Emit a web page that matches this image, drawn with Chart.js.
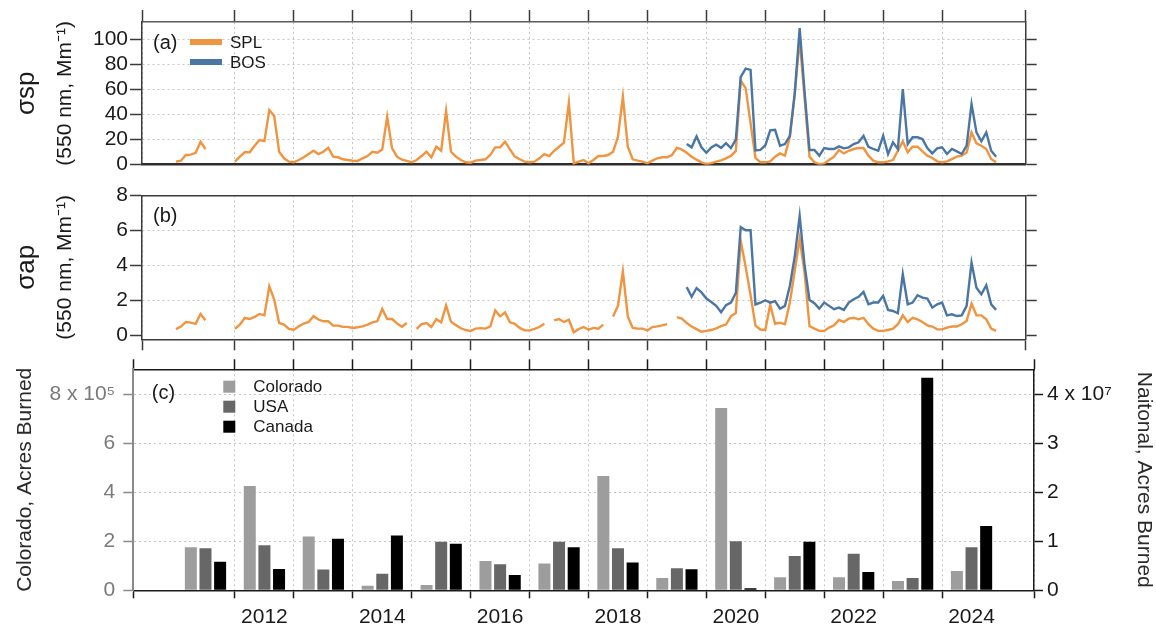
<!DOCTYPE html>
<html>
<head>
<meta charset="utf-8">
<script src="https://cdn.jsdelivr.net/npm/chart.js@4.4.0/dist/chart.umd.min.js"></script>
<style>
  html, body { margin: 0; padding: 0; background: #ffffff; }
  #wrap { position: relative; width: 1156px; height: 626px; overflow: hidden; background: #ffffff; }
  canvas { position: absolute; left: 0; top: 0; }
</style>
</head>
<body>
<div id="wrap">
  <canvas id="cA" width="1156" height="626"></canvas>
  <canvas id="cB" width="1156" height="626"></canvas>
  <canvas id="cC" width="1156" height="626"></canvas>
</div>
<script>
// ---------------- DATA ----------------
// Monthly series, SPL starts Jan 2011, BOS starts Sep 2019 (null = no data)
const splStart = 2011;
const bosStart = 2019 + 8 / 12;

// (a) scattering, SPL
const splScat = [
  2.4, 3.2, 7.7, 8, 9.5, 18.3, 12.5, null, null, null, null, null,
  2.4, 6.4, 9.9, 9.9, 15.1, 19.6, 18.8, 43.5, 38.7, 10.3, 5.1, 2.4,
  1.9, 3.7, 5.9, 8.5, 11.1, 8.5, 10.3, 13.5, 6.4, 5.9, 4.3, 3.7,
  3.2, 3.0, 5.1, 6.9, 10.3, 9.5, 12, 38.2, 13, 6.4, 4, 3,
  1.9, 3.7, 6.9, 10.3, 5.9, 14.3, 11.1, 42.7, 10.3, 6.4, 3.7, 1.9,
  1.6, 3.2, 3.7, 4.3, 7.7, 13.8, 13.8, 18.3, 12.2, 6.4, 4.3, 2.4,
  1.9, 2.4, 5.1, 8.5, 6.9, 11.1, 14.3, 17.5, 49.3, 1.1, 2.4, 3.7,
  1.1, 3.7, 6.9, 6.9, 7.7, 10.3, 22.3, 54.1, 14.3, 4.3, 3.2, 2.4,
  1.1, 3.2, 5.1, 5.9, 5.9, 7.7, 13.5, 12, 9.5, 6.4, 4, 1.9,
  0.5, 1.2, 2.5, 3.5, 5, 7, 11, 67, 61, 33, 5.5, 2,
  1.9, 2.7, 6.4, 9, 7.2, 22, 56, 100, 53, 6.4, 1.9, 0.5,
  1, 3.7, 6.4, 11.7, 9, 11.1, 12.5, 13.3, 13.3, 7.2, 3.2, 1.9,
  1.9, 2.7, 3.7, 11.1, 18.6, 9.8, 14.3, 14.3, 10.6, 7.2, 5.3, 2.7,
  1.9, 2.7, 4.5, 6.4, 7.2, 9.8, 25.7, 17, 15.1, 12.5, 4.5, 1.9
];
// (a) scattering, BOS (from Sep 2019)
const bosScat = [
  16.4, 13.8, 22.5, 13.8,
  9.5, 13.8, 16, 13.4, 17.2, 13.2, 20, 70, 76.5, 75.5, 11.4, 11.8,
  15.3, 27.3, 27.8, 15.1, 16.4, 23, 57, 108.8, 58, 11.7, 11.7, 7.2,
  13.3, 12.5, 12.5, 14.6, 13, 13.8, 16.4, 17.8, 23, 14.3, 12.5, 11.1,
  23, 8.5, 17.8, 12.5, 60.2, 16.4, 21.8, 21.8, 20.4, 13.3, 9, 13,
  13.8, 8.5, 12.5, 10.6, 8.5, 15.1, 48.3, 25.7, 18.6, 25.7, 11.1, 6.4
];
// (b) absorption, SPL
const splAbs = [
  0.35, 0.5, 0.76, 0.72, 0.65, 1.22, 0.86, null, null, null, null, null,
  0.36, 0.61, 0.99, 0.93, 1.05, 1.22, 1.14, 2.8, 2.04, 0.7, 0.61, 0.36,
  0.32, 0.51, 0.67, 0.76, 1.09, 0.9, 0.8, 0.8, 0.55, 0.55, 0.48, 0.48,
  0.42, 0.46, 0.51, 0.61, 0.74, 0.8, 1.5, 0.93, 0.93, 0.68, 0.49, 0.7,
  null, 0.37, 0.64, 0.7, 0.47, 0.92, 0.74, 1.7, 0.77, 0.58, 0.4, 0.3,
  0.25, 0.38, 0.41, 0.38, 0.51, 1.42, 1.08, 1.31, 0.74, 0.66, 0.42, 0.28,
  0.28, 0.36, 0.47, 0.66, null, 0.85, 0.93, 0.76, 0.89, 0.17, 0.36, 0.47,
  0.32, 0.42, 0.38, 0.61, null, 1.08, 1.69, 3.64, 1.08, 0.42, 0.38, 0.38,
  0.28, 0.47, 0.51, 0.57, 0.64, null, 1.04, 0.95, 0.7, 0.5, 0.35, 0.2,
  0.25, 0.3, 0.4, 0.52, 0.61, 1.08, 1.27, 5.4, 3.9, 2.3, 0.55, 0.33,
  0.3, 1.75, 0.66, 0.72, 0.63, 1.87, 3.68, 5.52, 3.58, 0.53, 0.38, 0.25,
  0.25, 0.44, 0.57, 0.88, 0.76, 0.95, 1.0, 0.91, 1.0, 0.63, 0.38, 0.25,
  0.25, 0.3, 0.38, 0.63, 1.14, 0.76, 1.0, 0.91, 0.76, 0.57, 0.5, 0.34,
  0.34, 0.44, 0.5, 0.5, 0.63, 0.82, 1.81, 1.14, 1.14, 0.91, 0.38, 0.25
];
// (b) absorption, BOS (from Sep 2019)
const bosAbs = [
  2.75, 2.2, 2.7, 2.45,
  2.1, 1.9, 1.68, 1.32, 1.72, 1.87, 2.42, 6.18, 6.0, 6.0, 1.76, 1.86,
  2.0, 1.86, 1.95, 1.52, 1.68, 2.82, 4.5, 6.82, 4.0, 2.02, 1.83, 1.52,
  1.87, 1.68, 1.49, 1.58, 1.45, 1.87, 2.06, 2.2, 2.48, 1.77, 1.87, 1.87,
  2.25, 1.45, 1.39, 1.26, 3.49, 1.77, 1.87, 2.29, 2.15, 2.1, 1.58, 1.77,
  1.87, 1.14, 1.2, 1.1, 1.14, 1.68, 4.15, 2.72, 2.34, 2.86, 1.77, 1.45
];

// (c) annual acres burned
const fireYears = [2011, 2012, 2013, 2014, 2015, 2016, 2017, 2018, 2019, 2020, 2021, 2022, 2023, 2024];
const coloradoAcres = [175500, 426000, 220000, 19000, 22000, 120000, 109000, 467000, 50000, 744000, 53000, 53000, 38000, 79000];
const usaAcres = [8570000, 9180000, 4220000, 3400000, 9930000, 5300000, 9930000, 8570000, 4490000, 10000000, 7000000, 7480000, 2520000, 8780000];
const canadaAcres = [5850000, 4350000, 10500000, 11200000, 9500000, 3130000, 8780000, 5650000, 4290000, 410000, 9930000, 3740000, 43400000, 13100000];
const yearLabels = [2012, 2014, 2016, 2018, 2020, 2022, 2024];
const coloradoTicks = [0, 200000, 400000, 600000, 800000];
const nationalTicks = [0, 10000000, 20000000, 30000000, 40000000];

// ---------------- STYLE ----------------
const FONT = "'Liberation Sans', Arial, Helvetica, sans-serif";
Chart.defaults.font.family = FONT;
Chart.defaults.color = '#1a1a1a';
const orange = '#EF9440';
const blue = '#4B76A3';
const gridCol = '#c6c6c6';
const gridDash = [2, 3];
const dark = '#3a3a3a';
const clear = 'rgba(0,0,0,0)';

const xMinAB = 2010.423, xMaxAB = 2025.419;
const xMinC = 2010.275, xMaxC = 2025.560;

function lineData(start, vals) { return vals.map((v, i) => ({ x: start + i / 12, y: v })); }

const panelDecor = {
  id: 'panelDecor',
  afterDatasetsDraw(chart, args, o) {
    const { ctx, chartArea: a } = chart;
    ctx.save();
    ctx.textBaseline = 'middle';
    ctx.textAlign = 'left';
    ctx.fillStyle = '#1a1a1a';
    ctx.font = o.labelSize + 'px ' + FONT;
    ctx.fillText(o.label, a.left + o.labelDx, a.top + o.labelDy);
    const L = o.legend;
    if (L) {
      ctx.font = L.size + 'px ' + FONT;
      chart.data.datasets.forEach((ds, i) => {
        const y = a.top + L.dy + i * L.step;
        if (L.swatch === 'line') {
          ctx.fillStyle = ds.borderColor;
          ctx.fillRect(a.left + L.dx, y - 3, L.w, 6);
        } else {
          ctx.fillStyle = ds.backgroundColor;
          ctx.fillRect(a.left + L.dx, y - 6, 12, 12);
        }
        ctx.fillStyle = '#1a1a1a';
        ctx.fillText(ds.label, a.left + L.tx, y + 1);
      });
    }
    ctx.restore();
  }
};

const baseOpts = {
  responsive: false,
  animation: false,
  devicePixelRatio: 1,
  events: []
};

// outer title axis holding the symbol (σsp / σap), larger font
function symbolAxis(name, min, max) {
  return {
    type: 'linear', position: 'left', weight: 1, min: min, max: max, display: true,
    ticks: { display: false }, grid: { display: false, drawTicks: false }, border: { display: false },
    title: { display: true, text: name, color: '#1a1a1a', font: { size: 26 }, padding: { top: 11, bottom: 0 } },
    afterFit: s => { s.width = 46; }
  };
}
const unitTitle = {
  display: true, text: '(550 nm, Mm\u207B\u00B9)', color: '#1a1a1a',
  font: { size: 21 }, padding: { top: 6.4, bottom: 0 }
};

// ---------------- PANEL (a) ----------------
new Chart(document.getElementById('cA'), {
  type: 'line',
  data: {
    datasets: [
      { label: 'SPL', data: lineData(splStart, splScat), borderColor: orange, backgroundColor: orange,
        borderWidth: 2.4, pointRadius: 0, tension: 0, spanGaps: false, order: 1 },
      { label: 'BOS', data: lineData(bosStart, bosScat), borderColor: blue, backgroundColor: blue,
        borderWidth: 2.4, pointRadius: 0, tension: 0, spanGaps: false, order: 0 }
    ]
  },
  options: Object.assign({}, baseOpts, {
    layout: { padding: { left: 0, right: 118.3, top: 10, bottom: 461.3 } },
    plugins: {
      legend: { display: false }, tooltip: { enabled: false },
      panelDecor: { label: '(a)', labelSize: 20, labelDx: 11, labelDy: 21,
        legend: { swatch: 'line', size: 17, dx: 48, w: 32, tx: 88, dy: 20, step: 20 } }
    },
    scales: {
      x: { type: 'linear', position: 'bottom', min: xMinAB, max: xMaxAB,
        ticks: { stepSize: 1, display: false },
        grid: { color: gridCol, drawTicks: false },
        border: { display: true, color: '#2e2e2e', width: 2.5, dash: gridDash },
        afterFit: s => { s.height = 0; } },
      xTop: { type: 'linear', position: 'top', min: xMinAB, max: xMaxAB,
        ticks: { stepSize: 1, display: false },
        grid: { drawOnChartArea: false, drawTicks: true, tickLength: 12, tickColor: dark, tickWidth: 1.5 },
        border: { display: true, color: '#5a5a5a', width: 1.5 },
        afterFit: s => { s.height = 12; } },
      y: { type: 'linear', position: 'left', weight: 0, min: 0, max: 113.6,
        ticks: { stepSize: 20, includeBounds: false, padding: 2, color: '#1a1a1a', font: { size: 21 } },
        grid: { color: c => (c.tick && c.tick.value === 0) ? clear : gridCol, tickLength: 12, tickColor: dark, tickWidth: 1.5 },
        border: { display: true, color: dark, width: 1.5, dash: gridDash },
        title: unitTitle,
        afterFit: s => { s.width = 96; } },
      ySym: symbolAxis('\u03C3sp', 0, 113.6),
      yR: { type: 'linear', position: 'right', min: 0, max: 113.6,
        ticks: { stepSize: 20, includeBounds: false, display: false },
        grid: { drawOnChartArea: false, tickLength: 11, tickColor: dark, tickWidth: 1.5 },
        border: { display: true, color: dark, width: 1.5 },
        afterFit: s => { s.width = 12; } }
    }
  }),
  plugins: [panelDecor]
});

// ---------------- PANEL (b) ----------------
new Chart(document.getElementById('cB'), {
  type: 'line',
  data: {
    datasets: [
      { label: 'SPL', data: lineData(splStart, splAbs), borderColor: orange, backgroundColor: orange,
        borderWidth: 2.4, pointRadius: 0, tension: 0, spanGaps: false, order: 1 },
      { label: 'BOS', data: lineData(bosStart, bosAbs), borderColor: blue, backgroundColor: blue,
        borderWidth: 2.4, pointRadius: 0, tension: 0, spanGaps: false, order: 0 }
    ]
  },
  options: Object.assign({}, baseOpts, {
    layout: { padding: { left: 0, right: 118.3, top: 195.3, bottom: 275.7 } },
    plugins: {
      legend: { display: false }, tooltip: { enabled: false },
      panelDecor: { label: '(b)', labelSize: 20, labelDx: 11, labelDy: 21 }
    },
    scales: {
      x: { type: 'linear', position: 'bottom', min: xMinAB, max: xMaxAB,
        ticks: { stepSize: 1, display: false },
        grid: { color: gridCol, drawTicks: true, tickLength: 11, tickColor: dark, tickWidth: 1.5 },
        border: { display: true, color: dark, width: 1.5, dash: gridDash },
        afterFit: s => { s.height = 11; } },
      xTop: { type: 'linear', position: 'top', min: xMinAB, max: xMaxAB,
        ticks: { stepSize: 1, display: false },
        grid: { drawOnChartArea: false, drawTicks: false },
        border: { display: true, color: dark, width: 1.5 },
        afterFit: s => { s.height = 0; } },
      y: { type: 'linear', position: 'left', weight: 0, min: -0.23, max: 8,
        ticks: { stepSize: 2, includeBounds: false, padding: 2, color: '#1a1a1a', font: { size: 21 } },
        grid: { color: c => (c.tick && (c.tick.value === 0 || c.tick.value === 8)) ? clear : gridCol, tickLength: 12, tickColor: dark, tickWidth: 1.5 },
        border: { display: true, color: dark, width: 1.5, dash: gridDash },
        title: unitTitle,
        afterFit: s => { s.width = 96; } },
      ySym: symbolAxis('\u03C3ap', -0.23, 8),
      yR: { type: 'linear', position: 'right', min: -0.23, max: 8,
        ticks: { stepSize: 2, includeBounds: false, display: false },
        grid: { drawOnChartArea: false, tickLength: 11, tickColor: dark, tickWidth: 1.5 },
        border: { display: true, color: dark, width: 1.5 },
        afterFit: s => { s.width = 12; } }
    }
  }),
  plugins: [panelDecor]
});

// ---------------- PANEL (c) ----------------
function barData(vals) { return fireYears.map((yr, i) => ({ x: yr + 0.5, y: vals[i] })); }
const barCommon = { categoryPercentage: 0.745, barPercentage: 0.82, borderWidth: 0, xAxisID: 'x' };

new Chart(document.getElementById('cC'), {
  type: 'bar',
  data: {
    datasets: [
      Object.assign({ label: 'Colorado', data: barData(coloradoAcres), backgroundColor: '#9d9d9d', yAxisID: 'yL' }, barCommon),
      Object.assign({ label: 'USA', data: barData(usaAcres), backgroundColor: '#676767', yAxisID: 'yR' }, barCommon),
      Object.assign({ label: 'Canada', data: barData(canadaAcres), backgroundColor: '#000000', yAxisID: 'yR' }, barCommon)
    ]
  },
  options: Object.assign({}, baseOpts, {
    layout: { padding: { left: 0, right: 0, top: 359.3, bottom: 0 } },
    plugins: {
      legend: { display: false }, tooltip: { enabled: false },
      panelDecor: { label: '(c)', labelSize: 20, labelDx: 18.5, labelDy: 24.5,
        legend: { swatch: 'square', size: 17, dx: 90, tx: 120, dy: 17.4, step: 20 } }
    },
    scales: {
      x: { type: 'linear', position: 'bottom', weight: 0, min: xMinC, max: xMaxC, offset: false,
        ticks: { stepSize: 1, display: false },
        grid: { offset: false, color: gridCol, drawTicks: true, tickLength: 8, tickColor: '#1a1a1a', tickWidth: 1.5 },
        border: { display: true, color: '#1a1a1a', width: 1.5, dash: gridDash },
        afterFit: s => { s.height = 8; } },
      xLab: { type: 'linear', position: 'bottom', weight: 1, min: xMinC, max: xMaxC, offset: false,
        afterBuildTicks: s => { s.ticks = yearLabels.map(yr => ({ value: yr + 0.5 })); },
        ticks: { autoSkip: false, maxRotation: 0, minRotation: 0, padding: 6, color: '#1a1a1a', font: { size: 21 },
          callback: v => String(Math.round(v - 0.5)) },
        grid: { display: false, drawTicks: false, offset: false },
        border: { display: false },
        afterFit: s => { s.height = 27.7; } },
      xTop: { type: 'linear', position: 'top', min: xMinC, max: xMaxC, offset: false,
        ticks: { stepSize: 1, display: false },
        grid: { offset: false, drawOnChartArea: false, drawTicks: true, tickLength: 10, tickColor: '#1a1a1a', tickWidth: 1.5 },
        border: { display: true, color: '#1a1a1a', width: 1.5 },
        afterFit: s => { s.height = 10; } },
      yL: { type: 'linear', position: 'left', min: 0, max: 902000,
        afterBuildTicks: s => { s.ticks = coloradoTicks.map(v => ({ value: v })); },
        ticks: { padding: 8, color: '#7a7a7a', font: { size: 21 },
          callback: v => (Math.abs(v - 800000) < 1 ? '8 x 10\u2075' : String(Math.round(v / 100000))) },
        grid: { color: c => (c.tick && c.tick.value === 0) ? clear : gridCol, tickLength: 10, tickColor: '#8a8a8a', tickWidth: 1.5 },
        border: { display: true, color: '#8a8a8a', width: 2, dash: gridDash },
        title: { display: true, text: 'Colorado, Acres Burned', color: '#2a2a2a', font: { size: 21 }, padding: { top: 12.4, bottom: 0 } },
        afterFit: s => { s.width = 133.3; } },
      yR: { type: 'linear', position: 'right', min: 0, max: 45100000,
        afterBuildTicks: s => { s.ticks = nationalTicks.map(v => ({ value: v })); },
        ticks: { padding: 4, color: '#1a1a1a', font: { size: 21 },
          callback: v => (Math.abs(v - 40000000) < 1 ? '4 x 10\u2077' : String(Math.round(v / 10000000))) },
        grid: { drawOnChartArea: false, tickLength: 9, tickColor: '#1a1a1a', tickWidth: 1.5 },
        border: { display: true, color: '#1a1a1a', width: 1.5 },
        title: { display: true, text: 'Naitonal, Acres Burned', color: '#2a2a2a', font: { size: 21 }, padding: { top: 0, bottom: 0 } },
        afterFit: s => { s.width = 122; } }
    }
  }),
  plugins: [panelDecor]
});
</script>
</body>
</html>
